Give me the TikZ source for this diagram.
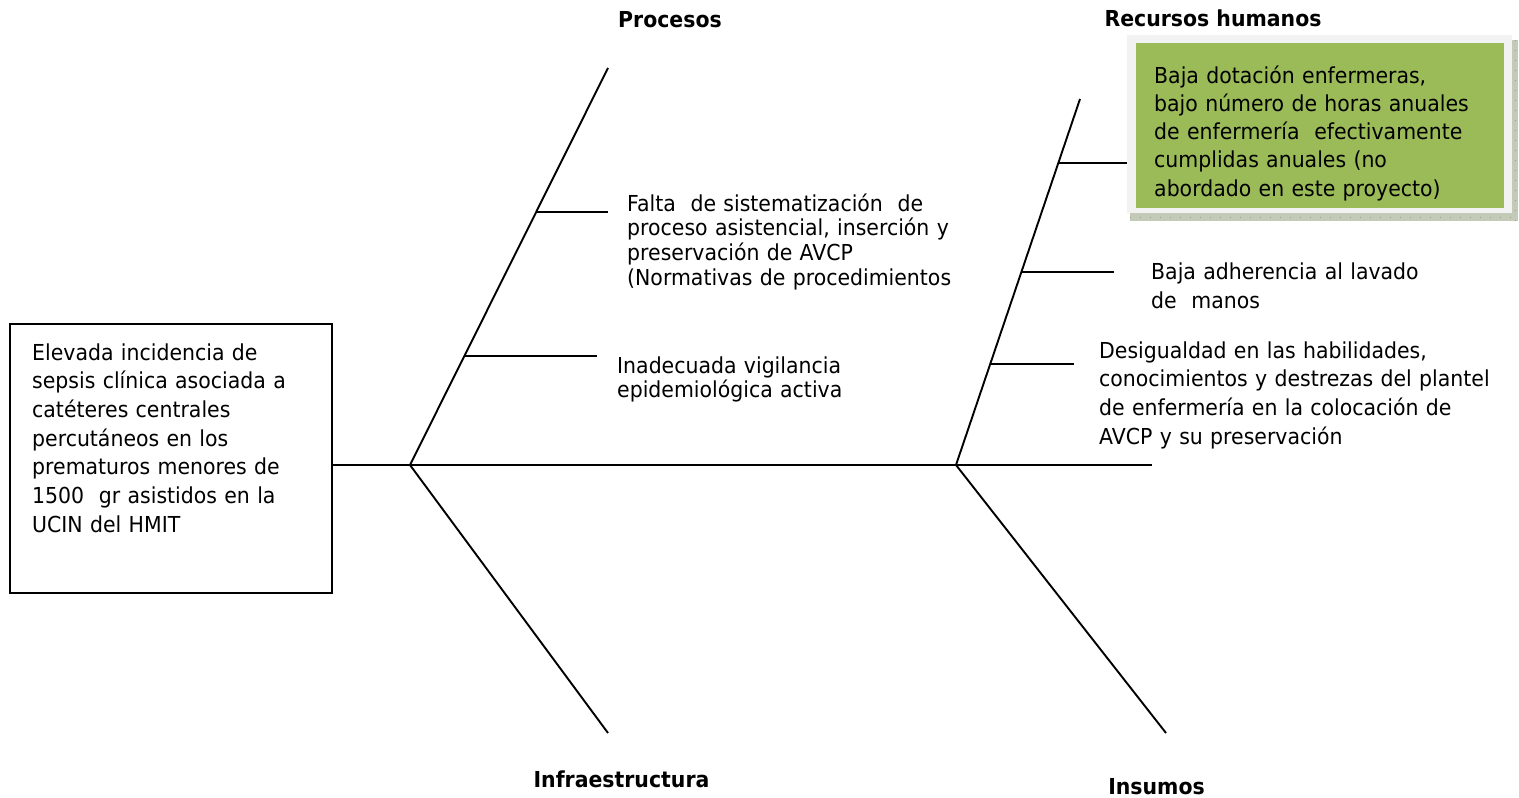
\documentclass[tikz,border=0pt]{standalone}
\usepackage{fontspec}
\setmainfont{DejaVu Sans}[FakeStretch=0.93]
\usetikzlibrary{calc}
\definecolor{olivegreen}{RGB}{155,187,89}
\definecolor{framegray}{RGB}{242,242,242}
\definecolor{shadowgreen}{RGB}{196,202,184}
\definecolor{shadowtick}{RGB}{150,160,140}
\tikzset{
  bone/.style={line width=1.9pt, draw=black},
  head/.style={inner sep=0pt, anchor=base, font=\bfseries\fontsize{22}{24}\selectfont},
  body/.style={inner sep=0pt, anchor=base west, text width=440pt, align=left, font=\fontsize{22}{#1}\selectfont},
}
\begin{document}
\begin{tikzpicture}[x=1pt,y=-1pt]
\useasboundingbox (0,0) rectangle (1519,798);

% effect box
\node[draw, line width=1.5pt, minimum width=322pt, minimum height=269pt, inner sep=0pt] (effect) at (171,458.5) {};
\node[body=28.7pt] (effecttxt) at (32,360) {Elevada incidencia de\\sepsis clínica asociada a\\catéteres centrales\\percutáneos en los\\prematuros menores de\\1500~ gr asistidos en la\\UCIN del HMIT};

% skeleton coordinates
\coordinate (j1) at (410,465);
\coordinate (j2) at (956,465);
\coordinate (spineend) at (1152,465);
\coordinate (p1) at (608,68);
\coordinate (i1) at (608,733);
\coordinate (p2) at (1080,99);
\coordinate (s2) at (1166,733);

\draw[bone] (effect.east |- spineend) -- (spineend);
\draw[bone] (p1) -- (j1) -- (i1);
\draw[bone] (p2) -- (j2) -- (s2);

% ribs
\coordinate (r1s) at ($(j1)!0.6373!(p1)$);
\coordinate (r1e) at (608,212);
\coordinate (r2s) at ($(j1)!0.2746!(p1)$);
\coordinate (r2e) at (597,356);
\coordinate (r3s) at ($(j2)!0.8251!(p2)$);
\coordinate (r3e) at (1127,163);
\coordinate (r4s) at ($(j2)!0.5273!(p2)$);
\coordinate (r4e) at (1114,272);
\coordinate (r5s) at ($(j2)!0.2760!(p2)$);
\coordinate (r5e) at (1074,364);
\draw[bone] (r1s) -- (r1s -| r1e);
\draw[bone] (r2s) -- (r2s -| r2e);
\draw[bone] (r3s) -- (r3s -| r3e);
\draw[bone] (r4s) -- (r4s -| r4e);
\draw[bone] (r5s) -- (r5s -| r5e);

% category labels
\node[head] (procesos) at (670,27) {Procesos};
\node[head] (rrhh) at (1213,26) {Recursos humanos};
\node[head] (infra) at (621.5,787) {Infraestructura};
\node[head] (insumos) at (1156.5,794) {Insumos};

% cause texts
\begin{scope}
  \clip (600,180) rectangle (1000,297);
  \node[body=24.7pt] (falta) at (627,211) {Falta~ de sistematización~ de\\proceso asistencial, inserción y\\preservación de AVCP\\(Normativas de procedimientos};
\end{scope}
\node[body=24pt] (inad) at (617,373) {Inadecuada vigilancia\\epidemiológica activa};
\node[body=29pt] (baja) at (1151,279) {Baja adherencia al lavado\\de~ manos};
\node[body=28.7pt] (desig) at (1099,358) {Desigualdad en las habilidades,\\conocimientos y destrezas del plantel\\de enfermería en la colocación de\\AVCP y su preservación};

% green box with frame and shadow
\fill[shadowgreen] (1512,40) rectangle (1518,221);
\fill[shadowgreen] (1130,213) rectangle (1518,221);
\draw[shadowtick, line width=0.6pt, dash pattern=on 1pt off 9pt] (1130,217) -- (1518,217);
\draw[shadowtick, line width=0.6pt, dash pattern=on 1pt off 9pt] (1515,40) -- (1515,221);
\fill[framegray] (1127,35) rectangle (1512,213);
\node[fill=olivegreen, inner sep=0pt, minimum width=368pt, minimum height=165pt] (greenbox) at (1320,125.5) {};
\node[body=28.3pt] (greentxt) at (1154,83) {Baja dotación enfermeras,\\bajo número de horas anuales\\de enfermería~ efectivamente\\cumplidas anuales (no\\abordado en este proyecto)};
\end{tikzpicture}
\end{document}
